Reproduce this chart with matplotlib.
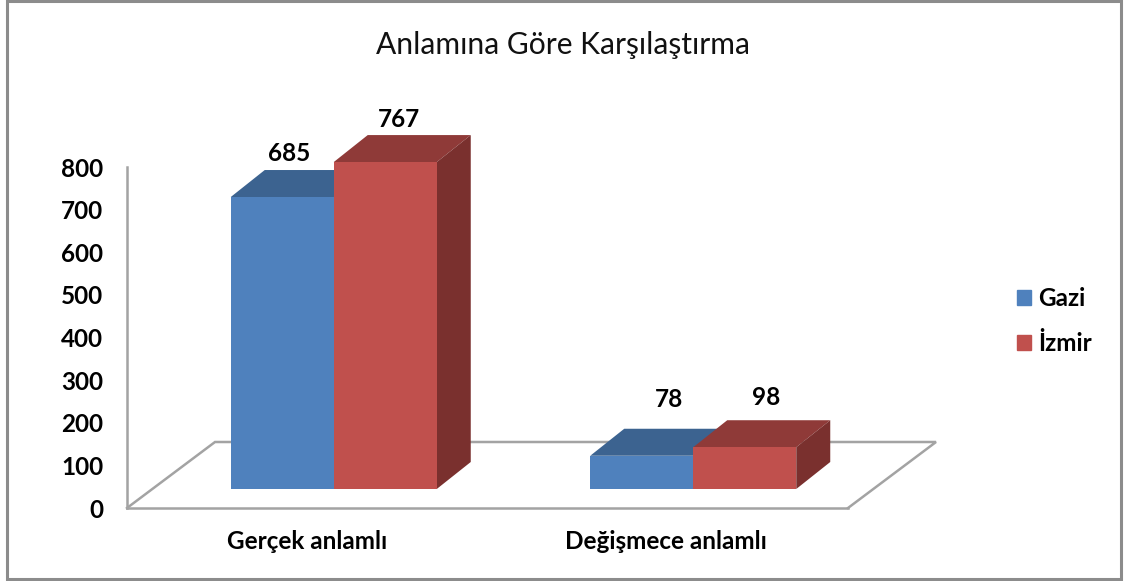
import numpy as np
import matplotlib
matplotlib.use("Agg")
import matplotlib.pyplot as plt
from matplotlib.patches import Patch, Rectangle

title = "Anlamına Göre Karşılaştırma"
categories = ["Gerçek anlamlı", "Değişmece anlamlı"]
gazi = [685, 78]
izmir = [767, 98]
yticks = [0, 100, 200, 300, 400, 500, 600, 700, 800]

plt.rcParams['font.family'] = ['Lato', 'DejaVu Sans']

W, H = 1125, 581
fig = plt.figure(figsize=(W / 100, H / 100), dpi=100)
fig.patch.set_facecolor('white')

# frame around the picture
fig.add_artist(Rectangle((7 / W, 1 - 579 / H), 1114 / W, 578 / H, transform=fig.transFigure,
                         fill=False, ec='#8c8c8c', lw=2.2))

# axes = front edge of the floor, 127..848 px, y 508..167 px
ax = fig.add_axes([127 / W, 1 - 508 / H, 721 / W, 341 / H])
ax.set_xlim(0, 2)
ax.set_ylim(0, 800)
ax.patch.set_alpha(0)

xunit = 2 / 721      # data per px
yunit = 800 / 341
depth_x = 34 * xunit
depth_y = 27 * yunit
floor_x = 88 * xunit
floor_y = 66 * yunit
lift = 19 * yunit
shift = 26.5 * xunit
bar_w = 103 * xunit

grey = '#a3a3a3'
for s in ['top', 'right']:
    ax.spines[s].set_visible(False)
for s in ['left', 'bottom']:
    ax.spines[s].set_color(grey)
    ax.spines[s].set_linewidth(1.8)

# floor outline
ax.plot([0, floor_x, 2 + floor_x, 2], [0, floor_y, floor_y, 0], color=grey, lw=1.8,
        clip_on=False, zorder=1, solid_joinstyle='miter')

x = np.arange(2) + 0.5 + shift
x[1] -= 1 * xunit


def box(left, values, front, top, side, z):
    for xi, v in zip(left, values):
        hi = v + lift
        ax.fill([xi, xi + depth_x, xi + bar_w + depth_x, xi + bar_w],
                [hi, hi + depth_y, hi + depth_y, hi], color=top, lw=0, zorder=z, clip_on=False)
        ax.fill([xi + bar_w, xi + bar_w + depth_x, xi + bar_w + depth_x, xi + bar_w],
                [lift, lift + depth_y, hi + depth_y, hi], color=side, lw=0, zorder=z, clip_on=False)
        ax.bar(xi, v, bar_w, bottom=lift, align='edge', color=front, zorder=z + 0.5,
               clip_on=False)


blue = '#4f81bd'
red = '#c0504d'
box(x - bar_w, gazi, blue, '#3c6390', '#34567d', 3)
box(x, izmir, red, '#8f3a38', '#7a302e', 4)

# value labels, nudged by hand
offs_gazi = [(7, 44), (27, 56)]
offs_izmir = [(14, 43), (21, 50)]
for xi, v, o in zip(x - bar_w / 2, gazi, offs_gazi):
    ax.annotate(str(v), (xi, v + lift), xytext=o, textcoords='offset pixels', ha='center',
                va='center', fontsize=17.5, fontweight='bold', color='black', zorder=6,
                annotation_clip=False)
for xi, v, o in zip(x + bar_w / 2, izmir, offs_izmir):
    ax.annotate(str(v), (xi, v + lift), xytext=o, textcoords='offset pixels', ha='center',
                va='center', fontsize=17.5, fontweight='bold', color='black', zorder=6,
                annotation_clip=False)

ax.set_yticks(yticks)
ax.set_yticklabels([str(t) for t in yticks], fontsize=17.5, fontweight='bold')
ax.set_xticks([0.5, 1.5 - 2 * xunit])
ax.set_xticklabels(categories, fontsize=17.5, fontweight='bold')
ax.tick_params(axis='y', length=0, pad=17)
ax.tick_params(axis='x', length=0, pad=16)

fig.text(563 / W, 1 - 45 / H, title, ha='center', va='center', fontsize=21.6, color='#111111')

handles = [Patch(color=blue, label='Gazi'), Patch(color=red, label='İzmir')]
leg = fig.legend(handles=handles, loc='center left', bbox_to_anchor=(1017 / W, 1 - 321 / H),
                 frameon=False, handlelength=0.58, handleheight=0.58, handletextpad=0.28,
                 labelspacing=0.9, borderpad=0, borderaxespad=0,
                 prop={'size': 17.5, 'weight': 'bold'})

fig.savefig("out.png", dpi=100)
